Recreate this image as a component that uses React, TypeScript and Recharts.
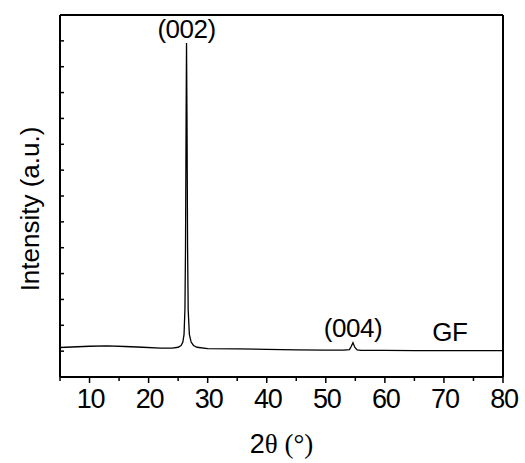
import React from "react";
import {
  LineChart,
  Line,
  XAxis,
  YAxis,
  ReferenceDot,
} from "recharts";

// 2θ (degrees) and intensity (a.u.)
const twoTheta = [
  5, 7, 10, 13, 16, 19, 22, 24, 25, 25.5, 25.8, 26, 26.15, 26.25, 26.35, 26.42,
  26.5, 26.6, 26.7, 26.9, 27.2, 27.6, 28.2, 30, 35, 40, 45, 50, 53, 54, 54.3,
  54.6, 54.9, 55.3, 56, 60, 65, 70, 75, 80,
];
const intensity = [
  1.14, 1.16, 1.19, 1.2, 1.18, 1.15, 1.12, 1.12, 1.15, 1.22, 1.35, 1.65, 2.6, 5,
  10, 12.92, 10, 5, 2.6, 1.65, 1.35, 1.22, 1.15, 1.1, 1.09, 1.07, 1.05, 1.04,
  1.04, 1.06, 1.18, 1.33, 1.15, 1.05, 1.03, 1.03, 1.02, 1.02, 1.02, 1.02,
];

const xTicks = [5, 10, 15, 20, 25, 30, 35, 40, 45, 50, 55, 60, 65, 70, 75, 80];
const yTicks = [0, 1, 2, 3, 4, 5, 6, 7, 8, 9, 10, 11, 12, 13, 14];

const peaks = [
  { x: 26.42, y: 12.92, text: "(002)", dy: -5 },
  { x: 54.6, y: 1.33, text: "(004)", dy: -6 },
  { x: 71, y: 1.02, text: "GF", dy: -10 },
];

const data = twoTheta.map((t, i) => ({ t, v: intensity[i] }));

const SANS = "'Liberation Sans', Arial, sans-serif";
const SERIF = "'Liberation Serif', 'Times New Roman', serif";

const XTick = (props: any) => {
  const { x, y, payload } = props;
  const major = payload.value % 10 === 0;
  return (
    <g>
      <line x1={x} x2={x} y1={y} y2={y + (major ? 6 : 4)} stroke="#000" strokeWidth={1.5} />
      {major && (
        <text
          x={x + 1}
          y={y + 31}
          textAnchor="middle"
          fontFamily={SANS}
          fontSize={27}
          letterSpacing={-1.2}
          fill="#000"
        >
          {payload.value}
        </text>
      )}
    </g>
  );
};

// inward tick marks on the left axis, no labels
const YTick = (props: any) => {
  const { x, y } = props;
  return <line x1={x} x2={x + 4} y1={y} y2={y} stroke="#000" strokeWidth={1.5} />;
};

export default function App() {
  return (
    <div style={{ position: "absolute", left: 0, top: 0, background: "#fff" }}>
      <LineChart
        width={525}
        height={463}
        data={data}
        margin={{ top: 14, right: 21, left: 0, bottom: 0 }}
      >
        <XAxis
          dataKey="t"
          type="number"
          domain={[5, 80]}
          ticks={xTicks}
          interval={0}
          height={86}
          tickSize={0}
          tickMargin={0}
          tickLine={false}
          tick={<XTick />}
          axisLine={{ stroke: "#000", strokeWidth: 2 }}
          label={{
            content: (p: any) => {
              const vb = p.viewBox;
              return (
                <text
                  x={vb.x + vb.width / 2}
                  y={453}
                  textAnchor="middle"
                  fontSize={27}
                  fill="#000"
                >
                  <tspan fontFamily={SANS}>2</tspan>
                  <tspan fontFamily={SERIF}>θ (°)</tspan>
                </text>
              );
            },
          }}
        />
        <XAxis
          xAxisId="top"
          orientation="top"
          type="number"
          domain={[5, 80]}
          height={1}
          tick={false}
          tickLine={false}
          axisLine={{ stroke: "#000", strokeWidth: 2 }}
        />
        <YAxis
          type="number"
          domain={[0, 14]}
          ticks={yTicks}
          interval={0}
          width={60}
          tickSize={0}
          tickMargin={0}
          tickLine={false}
          tick={<YTick />}
          axisLine={{ stroke: "#000", strokeWidth: 2 }}
          label={{
            content: (p: any) => {
              const vb = p.viewBox;
              const cx = vb.x + vb.width - 21;
              const cy = 209;
              return (
                <text
                  x={cx}
                  y={cy}
                  transform={`rotate(-90, ${cx}, ${cy})`}
                  textAnchor="middle"
                  fontFamily={SANS}
                  fontSize={26}
                  fill="#000"
                >
                  Intensity (a.u.)
                </text>
              );
            },
          }}
        />
        <YAxis
          yAxisId="right"
          orientation="right"
          type="number"
          domain={[0, 14]}
          width={1}
          tick={false}
          tickLine={false}
          axisLine={{ stroke: "#000", strokeWidth: 2 }}
        />
        <Line
          dataKey="v"
          type="linear"
          stroke="#000"
          strokeWidth={1.3}
          dot={false}
          isAnimationActive={false}
        />
        {peaks.map((pk) => (
          <ReferenceDot
            key={pk.text}
            x={pk.x}
            y={pk.y}
            r={0}
            stroke="none"
            fill="none"
            label={{
              content: (p: any) => (
                <text
                  x={p.viewBox.x}
                  y={p.viewBox.y + pk.dy}
                  textAnchor="middle"
                  fontFamily={SANS}
                  fontSize={26}
                  letterSpacing={-0.5}
                  fill="#000"
                >
                  {pk.text}
                </text>
              ),
            }}
          />
        ))}
      </LineChart>
    </div>
  );
}
